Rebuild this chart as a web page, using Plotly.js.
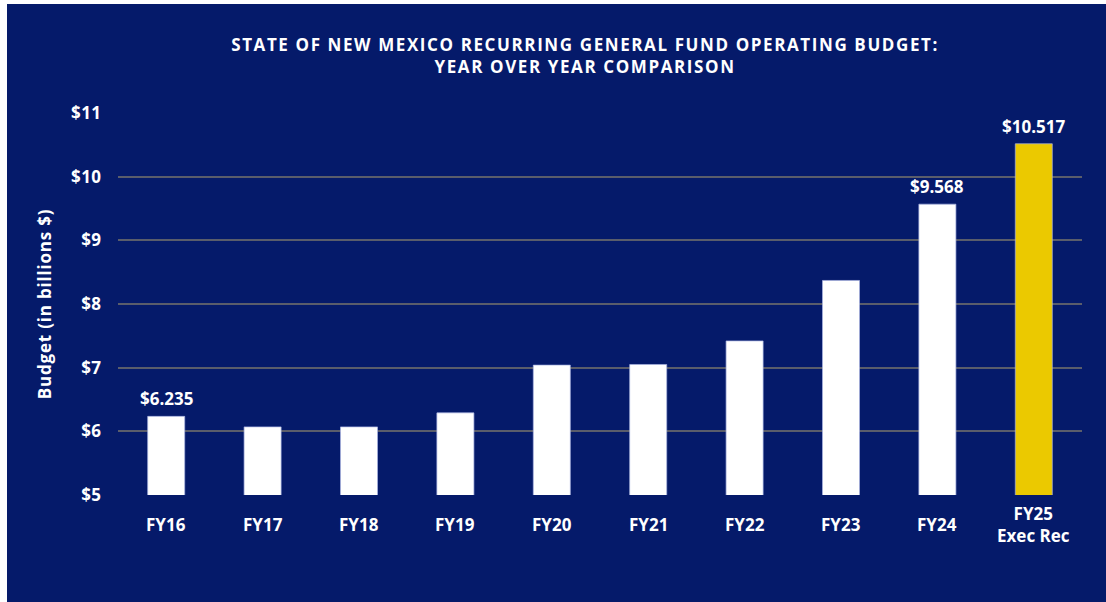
<!DOCTYPE html>
<html>
<head>
<meta charset="utf-8">
<script src="https://cdn.plot.ly/plotly-3.0.1.min.js"></script>
<style>
  html, body { margin: 0; padding: 0; background: #ffffff; }
  #wrap { position: absolute; left: 7px; top: 4px; width: 1099px; height: 598px; background: #051a6a; }
  #chart { width: 1099px; height: 598px; }
  #chart .gtitle { letter-spacing: 1.6px; }
  #chart .ytitle { letter-spacing: 0.8px; }
  #chart .ytick text { letter-spacing: 0.5px; }
</style>
</head>
<body>
<div id="wrap"><div id="chart"></div></div>
<script>
// Data
const categories = ["FY16", "FY17", "FY18", "FY19", "FY20", "FY21", "FY22", "FY23", "FY24", "FY25"];
const tickLabels = ["FY16", "FY17", "FY18", "FY19", "FY20", "FY21", "FY22", "FY23", "FY24", "FY25<br>Exec Rec"];
const budget = [6.235, 6.07, 6.07, 6.29, 7.04, 7.05, 7.42, 8.37, 9.568, 10.517];
const valueLabels = ["$6.235", "", "", "", "", "", "", "", "$9.568", "$10.517"];
const yTickVals = [5, 6, 7, 8, 9, 10, 11];
const yTickText = ["$5", "$6", "$7", "$8", "$9", "$10", "$11"];

const NAVY = "#051a6a";
const WHITE = "#ffffff";
const YELLOW = "#ebc900";
const FONT = "Open Sans";

const barColors = categories.map((c, i) => i === categories.length - 1 ? YELLOW : WHITE);

const trace = {
  type: "bar",
  x: categories,
  y: budget,
  base: 0,
  marker: { color: barColors, line: { color: "rgba(170,180,225,0.7)", width: 1 } },
  hoverinfo: "skip"
};

const annotations = [];
categories.forEach((c, i) => {
  annotations.push({
    x: c, xref: "x", y: -0.076, yref: "paper",
    text: tickLabels[i], showarrow: false, yanchor: "middle", xanchor: "center",
    font: { family: FONT, size: 17, color: WHITE, weight: 700 }
  });
  if (valueLabels[i]) {
    annotations.push({
      x: c, xref: "x", y: budget[i], yref: "y",
      text: valueLabels[i], showarrow: false, yanchor: "bottom", xanchor: "center",
      yshift: 4,
      font: { family: FONT, size: 17, color: WHITE, weight: 700 }
    });
  }
});

const layout = {
  width: 1099, height: 598,
  paper_bgcolor: NAVY, plot_bgcolor: NAVY,
  margin: { l: 111, r: 24, t: 109, b: 107 },
  showlegend: false,
  bargap: 0.616,
  title: {
    text: "STATE OF NEW MEXICO RECURRING GENERAL FUND OPERATING BUDGET:<br>YEAR OVER YEAR COMPARISON",
    x: 0.526, xanchor: "center", xref: "container",
    y: 0.921, yanchor: "middle", yref: "container",
    font: { family: FONT, size: 17, color: WHITE, weight: 700 }
  },
  xaxis: {
    type: "category",
    showticklabels: false,
    showgrid: false, zeroline: false, showline: false, ticks: ""
  },
  yaxis: {
    range: [5, 11],
    tickvals: yTickVals, ticktext: yTickText,
    ticks: "outside", ticklen: 12, tickcolor: "rgba(0,0,0,0)",
    showgrid: true, gridcolor: "#5a5d6b", gridwidth: 2,
    zeroline: false, showline: false,
    tickfont: { family: FONT, size: 17, color: WHITE, weight: 700 },
    title: { text: "Budget (in billions $)", standoff: 16,
      font: { family: FONT, size: 17, color: WHITE, weight: 700 } }
  },
  annotations: annotations
};

Plotly.newPlot("chart", [trace], layout, { displayModeBar: false, staticPlot: true });
</script>
</body>
</html>
